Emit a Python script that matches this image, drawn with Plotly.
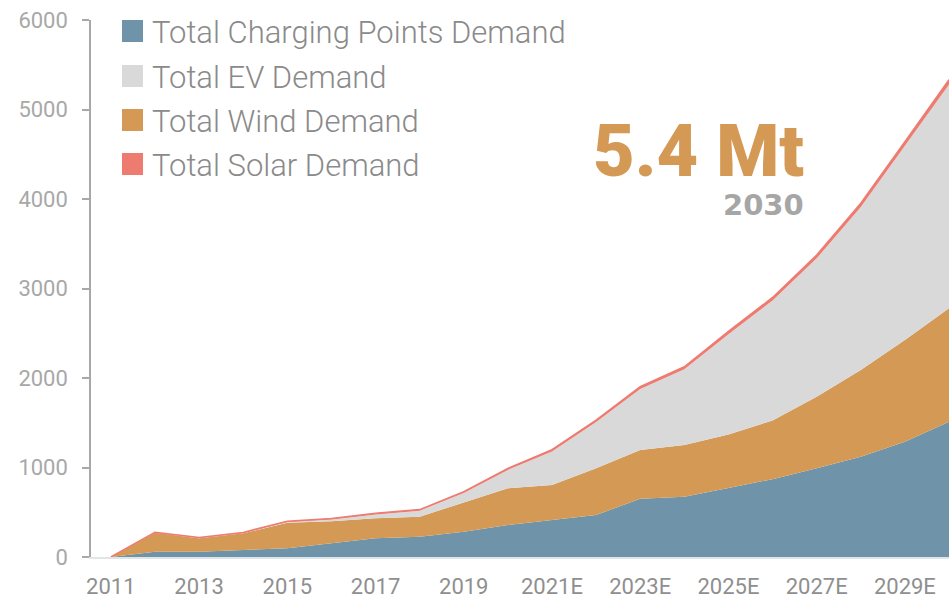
import plotly.graph_objects as go

# ---- data (kt) ----
years = list(range(2011, 2031))
charging_points = [0, 60, 60, 75, 97, 153, 209, 227, 283, 358, 410, 469, 650, 674, 770, 870, 991, 1121, 1289, 1510]
wind = [0, 210, 150, 190, 287, 247, 223, 223, 327, 409, 394, 522, 546, 577, 600, 655, 800, 968, 1136, 1270]
ev = [0, 2, 2, 3, 6, 20, 44, 68, 105, 206, 376, 517, 682, 848, 1120, 1342, 1546, 1821, 2169, 2500]
solar = [0, 5, 5, 7, 10, 10, 12, 12, 15, 18, 20, 22, 25, 27, 30, 33, 37, 42, 47, 52]

tick_years = [2011, 2013, 2015, 2017, 2019, 2021, 2023, 2025, 2027, 2029]
tick_labels = ["2011", "2013", "2015", "2017", "2019", "2021E", "2023E", "2025E", "2027E", "2029E"]
y_ticks = [0, 1000, 2000, 3000, 4000, 5000, 6000]

headline = "5.4 Mt"
headline_year = "2030"

# ---- styles ----
C_BLUE = "#6F93A8"
C_GREY = "#D9D9D9"
C_ORANGE = "#D49A55"
C_RED = "#EE7B70"

W, H = 949, 598
ML = 91           # y axis line at x = 91
MT = 20           # 6000 at y = 20
MR = 0
PLOT_BOTTOM = 557  # 0 at y = 557
MB = H - PLOT_BOTTOM
PW, PH = W - ML - MR, H - MT - MB


def px_x(px):
    """pixel x -> paper x"""
    return (px - ML) / PW


def px_y(py):
    """pixel y -> paper y"""
    return (PLOT_BOTTOM - py) / PH


fig = go.Figure()

# stacking order bottom -> top
stack = [
    ("Total Charging Points Demand", charging_points, C_BLUE, 0),
    ("Total Wind Demand", wind, C_ORANGE, 0),
    ("Total EV Demand", ev, C_GREY, 0),
    ("Total Solar Demand", solar, C_RED, 1.5),
]
for name, vals, col, lw in stack:
    fig.add_trace(go.Scatter(
        x=years, y=vals, name=name, mode="lines",
        stackgroup="one", fillcolor=col,
        line=dict(color=col, width=lw),
        showlegend=False, hoverinfo="skip",
    ))

# custom legend (square swatches)
legend_items = [
    ("Total Charging Points Demand", C_BLUE),
    ("Total EV Demand", C_GREY),
    ("Total Wind Demand", C_ORANGE),
    ("Total Solar Demand", C_RED),
]
row_centers = [31, 76, 120, 164]
for (label, col), cy in zip(legend_items, row_centers):
    fig.add_shape(type="rect", xref="paper", yref="paper",
                  x0=px_x(122), x1=px_x(143), y0=px_y(cy + 11), y1=px_y(cy - 11),
                  fillcolor=col, line=dict(width=0), layer="above")
    fig.add_annotation(text=label, xref="paper", yref="paper",
                       x=px_x(150), y=px_y(cy + 1.5), xanchor="left", yanchor="middle",
                       showarrow=False,
                       font=dict(family="Roboto", size=31, color="#8a8a8a", weight=300))

fig.add_annotation(text=headline, xref="paper", yref="paper",
                   x=px_x(806), y=px_y(151), xanchor="right", yanchor="middle",
                   showarrow=False,
                   font=dict(family="Roboto", size=72, color=C_ORANGE, weight=900))
fig.add_annotation(text=headline_year, xref="paper", yref="paper",
                   x=px_x(806), y=px_y(205), xanchor="right", yanchor="middle",
                   showarrow=False,
                   font=dict(family="DejaVu Sans", size=29, color="#a6a6a6", weight=700))

fig.update_layout(
    width=W, height=H,
    margin=dict(l=ML, r=MR, t=MT, b=MB),
    paper_bgcolor="white", plot_bgcolor="white",
    showlegend=False,
    hovermode=False,
    xaxis=dict(
        range=[2010.55, 2030], tickvals=tick_years, ticktext=tick_labels,
        showgrid=False, zeroline=False, showline=True, linecolor="#dfe6ea", linewidth=2,
        ticks="", ticklabelstandoff=9,
        tickfont=dict(family="Roboto", size=22, color="#8f8f8f"),
    ),
    yaxis=dict(
        range=[0, 6000], tickvals=y_ticks,
        showgrid=False, zeroline=False, showline=True, linecolor="#a8a8a8", linewidth=1.5,
        ticks="outside", ticklen=7, tickcolor="#a8a8a8", tickwidth=1.5,
        ticklabelstandoff=10, ticklabeloverflow="allow",
        tickfont=dict(family="Roboto", size=22, color="#a8a8a8"),
    ),
)

# the page body has a default 8px margin; remove it so the figure sits at the window origin
fig.write_html(
    "out.html",
    config={"displayModeBar": False},
    post_script="document.body.style.margin='0';document.body.style.overflow='hidden';",
)
